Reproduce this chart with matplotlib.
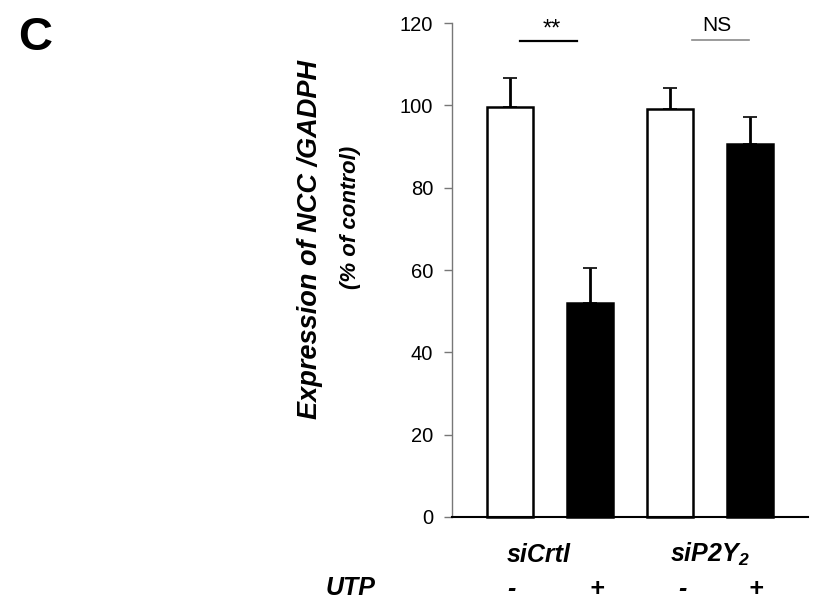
import matplotlib
matplotlib.use("Agg")
import matplotlib.pyplot as plt
import numpy as np

# ---- data ----
groups = ["siCrtl", "siP2Y$_{\\mathbf{2}}$"]
utp = ["-", "+", "-", "+"]
means = [99.5, 52.0, 99.0, 90.7]
err_up = [7.2, 8.4, 5.1, 6.5]
colors = ["white", "black", "white", "black"]
yticks = [0, 20, 40, 60, 80, 100, 120]
ylabel1 = "Expression of NCC /GADPH"
ylabel2 = "(% of control)"
sig_labels = ["**", "NS"]

plt.rcParams['font.family'] = ['Liberation Sans', 'DejaVu Sans']
plt.rcParams['mathtext.fontset'] = 'custom'
plt.rcParams['mathtext.bf'] = 'Liberation Sans:bold:italic'
plt.rcParams['mathtext.rm'] = 'Liberation Sans:bold:italic'
plt.rcParams['mathtext.it'] = 'Liberation Sans:bold:italic'

fig = plt.figure(figsize=(8.21, 6.14), dpi=100)
ax = fig.add_axes([452/821, 97/614, 356/821, 494/614])

x = np.arange(len(means))
ax.bar(x, means, width=0.575, color=colors, edgecolor="black", linewidth=1.8,
       zorder=2, clip_on=False)
ax.errorbar(x, means, yerr=[np.zeros(len(means)), err_up], fmt="none",
            ecolor="black", elinewidth=2.0, capsize=5, capthick=1.2, zorder=3)

ax.set_xlim(-0.725, 3.725)
ax.set_ylim(0, 120)
ax.set_yticks(yticks)
ax.set_yticklabels([str(t) for t in yticks], fontsize=14.5)
ax.set_xticks([])
for s in ["top", "right"]:
    ax.spines[s].set_visible(False)
ax.spines["left"].set_color("#777777")
ax.spines["left"].set_linewidth(1.0)
ax.spines["bottom"].set_color("black")
ax.spines["bottom"].set_linewidth(1.5)
ax.spines["bottom"].set_zorder(4)
ax.tick_params(axis="y", length=5.5, width=1.0, color="#777777", pad=8)

# significance brackets
ax.plot([0.125, 0.834], [115.6, 115.6], color="black", lw=1.6, clip_on=False)
ax.plot([2.275, 2.99], [115.8, 115.8], color="#8a8a8a", lw=1.2, clip_on=False)
ax.text(0.52, 117.0, sig_labels[0], ha="center", va="baseline", fontsize=17)
ax.text(2.58, 118.0, sig_labels[1], ha="center", va="baseline", fontsize=15)

# group labels
tr = ax.get_xaxis_transform()
ax.text(0.36, -0.091, groups[0], transform=tr, ha="center", va="baseline",
        fontsize=18, fontweight="bold", fontstyle="italic", clip_on=False)
ax.text(2.5, -0.091, groups[1], transform=tr, ha="center", va="baseline",
        fontsize=18, fontweight="bold", fontstyle="italic", clip_on=False)
ax.text(-2.0, -0.158, "UTP", transform=tr, ha="center", va="baseline",
        fontsize=18, fontweight="bold", fontstyle="italic", clip_on=False)
sign_x = [0.02, 1.08, 2.15, 3.07]
for xi, s in zip(sign_x, utp):
    ax.text(xi, -0.16, s, transform=tr, ha="center", va="baseline",
            fontsize=18, fontweight="bold", fontstyle="italic", clip_on=False)

# y label (two lines)
fig.text(310/821, 1 - 239/614, ylabel1, rotation=90, ha="center", va="center",
         fontsize=19.5, fontweight="bold", fontstyle="italic")
fig.text(350/821, 1 - 217/614, ylabel2, rotation=90, ha="center", va="center",
         fontsize=16, fontweight="bold", fontstyle="italic")

# panel letter
fig.text(0.022, 1 - 50/614, "C", ha="left", va="baseline", fontsize=34,
         fontweight="bold")

fig.savefig("out.png", dpi=100)
